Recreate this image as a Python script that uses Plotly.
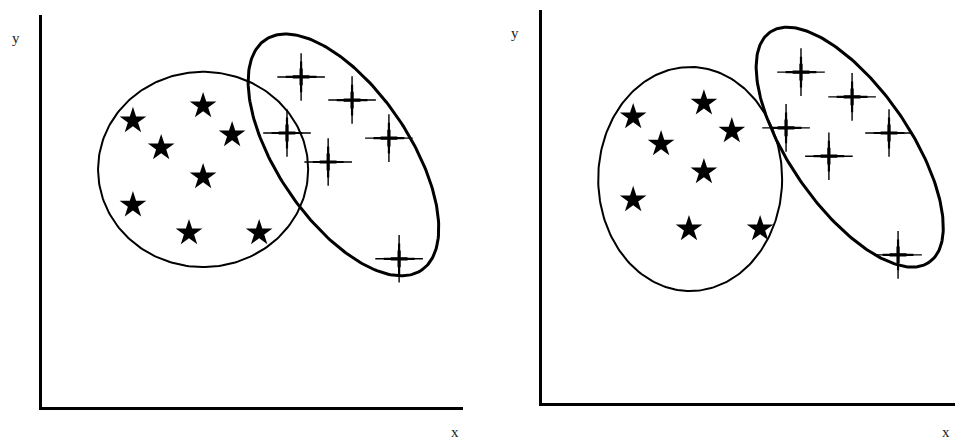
import numpy as np
import plotly.graph_objects as go

# ---- data (units: same scale on both axes, origin at the axes corner) ----
# Left panel
left_star_x = [2.32, 4.11, 4.85, 3.04, 4.11, 2.32, 3.75, 5.54]
left_star_y = [7.30, 7.68, 6.94, 6.61, 5.87, 5.15, 4.44, 4.44]
left_cross_x = [6.61, 7.91, 6.25, 8.85, 7.30, 9.11]
left_cross_y = [8.42, 7.83, 6.99, 6.86, 6.25, 3.78]
# cluster outlines: centre x, centre y, semi-axis a, semi-axis b, angle (deg)
left_cluster_a = [4.11, 6.06, 2.68, 2.49, 0.0]
left_cluster_b = [7.69, 6.43, 3.55, 1.68, -55.8]

# Right panel
right_star_x = [2.32, 4.12, 4.83, 3.03, 4.12, 2.32, 3.74, 5.55]
right_star_y = [7.28, 7.63, 6.92, 6.59, 5.88, 5.17, 4.43, 4.43]
right_cross_x = [6.59, 7.89, 6.21, 8.83, 7.30, 9.06]
right_cross_y = [8.42, 7.79, 7.00, 6.87, 6.28, 3.77]
right_cluster_a = [3.77, 5.70, 2.34, 2.85, 0.0]
right_cluster_b = [7.83, 6.51, 3.56, 1.52, -55.3]

axis_label_x = "x"
axis_label_y = "y"

W, H = 955, 443


def outline(p, n=240):
    cx, cy, a, b, ang = p
    t = np.linspace(0, 2 * np.pi, n)
    th = np.radians(ang)
    x = cx + a * np.cos(t) * np.cos(th) - b * np.sin(t) * np.sin(th)
    y = cy + a * np.cos(t) * np.sin(th) + b * np.sin(t) * np.cos(th)
    return x, y


fig = go.Figure()

panels = [
    dict(xa="x", ya="y", sx=left_star_x, sy=left_star_y, cx=left_cross_x, cy=left_cross_y,
         ca=left_cluster_a, cb=left_cluster_b, wa=2.0, wb=3.0),
    dict(xa="x2", ya="y2", sx=right_star_x, sy=right_star_y, cx=right_cross_x, cy=right_cross_y,
         ca=right_cluster_a, cb=right_cluster_b, wa=2.0, wb=3.0),
]

for p in panels:
    ex, ey = outline(p["ca"])
    fig.add_trace(go.Scatter(x=ex, y=ey, mode="lines", line=dict(color="black", width=p["wa"]),
                             xaxis=p["xa"], yaxis=p["ya"], hoverinfo="skip", showlegend=False))
    ex, ey = outline(p["cb"])
    fig.add_trace(go.Scatter(x=ex, y=ey, mode="lines", line=dict(color="black", width=p["wb"]),
                             xaxis=p["xa"], yaxis=p["ya"], hoverinfo="skip", showlegend=False))
    fig.add_trace(go.Scatter(x=p["sx"], y=p["sy"], mode="markers",
                             marker=dict(symbol="star", size=20, color="black", line=dict(width=0)),
                             xaxis=p["xa"], yaxis=p["ya"], showlegend=False))
    # tapered four-pointed crosses: thin long arms, thicker short core
    for sz, lw in [(34, 1.4), (22, 2.2), (12, 3.2)]:
        fig.add_trace(go.Scatter(x=p["cx"], y=p["cy"], mode="markers",
                                 marker=dict(symbol="cross-thin", size=sz, color="black",
                                             line=dict(width=lw, color="black")),
                                 xaxis=p["xa"], yaxis=p["ya"], showlegend=False))

axis_common = dict(showline=True, linecolor="black", linewidth=2.5, showgrid=False,
                   zeroline=False, showticklabels=False, ticks="")

# pixel geometry of the two panels
L = dict(x0=42, x1=463, y0=15, y1=407)
R = dict(x0=542, x1=955, y0=10, y1=403)
unitL = (L["y1"] - L["y0"]) / 10.0
unitR = (R["y1"] - R["y0"]) / 10.0

fig.update_layout(
    width=W, height=H, margin=dict(l=0, r=0, t=0, b=0),
    paper_bgcolor="white", plot_bgcolor="white",
    xaxis=dict(domain=[L["x0"] / W, L["x1"] / W], range=[0, (L["x1"] - L["x0"]) / unitL], **axis_common),
    yaxis=dict(domain=[1 - L["y1"] / H, 1 - L["y0"] / H], range=[0, 10], **axis_common),
    xaxis2=dict(domain=[R["x0"] / W, 1.0], range=[0, (R["x1"] - R["x0"]) / unitR], anchor="y2", **axis_common),
    yaxis2=dict(domain=[1 - R["y1"] / H, 1 - R["y0"] / H], range=[0, 10], anchor="x2", **axis_common),
)

font = dict(family="Liberation Serif, DejaVu Serif, serif", size=15, color="#222")
for xr, yr, tx, ty, lx, ly in [
    ("x domain", "y domain", -0.062, 0.941, 0.981, -0.064),
    ("x2 domain", "y2 domain", -0.065, 0.941, 0.978, -0.074),
]:
    fig.add_annotation(xref=xr, yref=yr, x=tx, y=ty, text=axis_label_y, showarrow=False, font=font,
                       xanchor="center", yanchor="middle")
    fig.add_annotation(xref=xr, yref=yr, x=lx, y=ly, text=axis_label_x, showarrow=False, font=font,
                       xanchor="center", yanchor="middle")

fig.write_html("out.html", config={"displayModeBar": False},
               post_script="document.body.style.margin='0';document.body.style.overflow='hidden';")
